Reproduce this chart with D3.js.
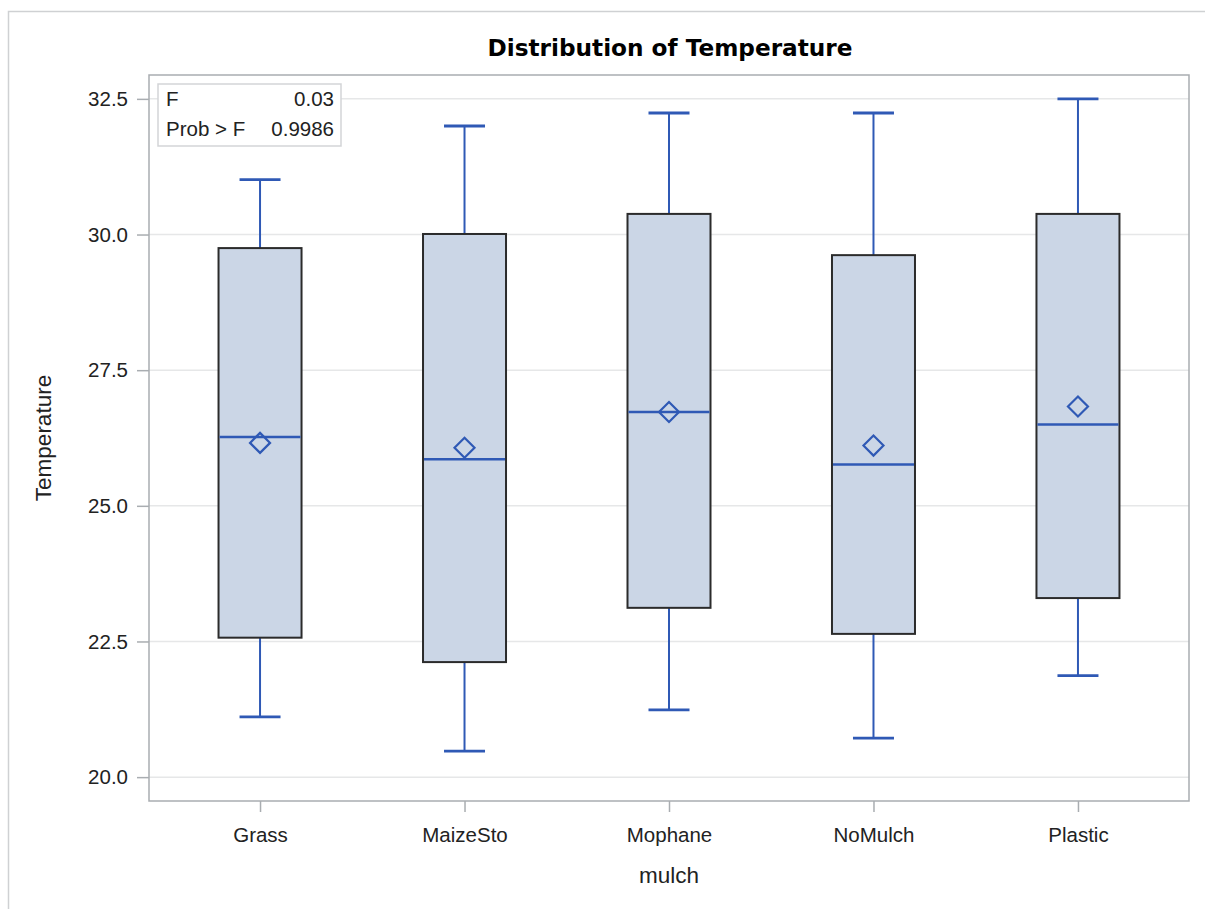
<!DOCTYPE html>
<html>
<head>
<meta charset="utf-8">
<script src="https://cdn.jsdelivr.net/npm/d3@7"></script>
<style>
  html, body { margin: 0; padding: 0; background: #fff; }
  svg { display: block; }
  text { font-family: "Liberation Sans", Arial, sans-serif; fill: #222; }
</style>
</head>
<body>
<svg id="chart" width="1205" height="909"></svg>
<script>
// ---- data ----
const categories = ["Grass", "MaizeSto", "Mophane", "NoMulch", "Plastic"];
const whiskerMin = [21.11, 20.48, 21.24, 20.72, 21.87];
const q1Values   = [22.57, 22.12, 23.12, 22.64, 23.30];
const medians    = [26.27, 25.86, 26.73, 25.76, 26.50];
const means      = [26.16, 26.07, 26.73, 26.11, 26.83];
const q3Values   = [29.75, 30.01, 30.38, 29.62, 30.38];
const whiskerMax = [31.01, 32.00, 32.24, 32.24, 32.50];
const yTicks = [20.0, 22.5, 25.0, 27.5, 30.0, 32.5];
const statLabels = ["F", "Prob > F"];
const statValues = ["0.03", "0.9986"];

const rows = categories.map((c, i) => ({
  cat: c, min: whiskerMin[i], q1: q1Values[i], med: medians[i],
  mean: means[i], q3: q3Values[i], max: whiskerMax[i]
}));

// ---- layout ----
const svg = d3.select("#chart");
const plot = { left: 149, right: 1189, top: 75, bottom: 801 };
const tickFont = 20.5;

// outer frame
svg.append("rect").attr("x", 8.5).attr("y", 11.5).attr("width", 1220).attr("height", 920)
  .attr("fill", "none").attr("stroke", "#cfd1d3").attr("stroke-width", 1.5);

const x = d3.scalePoint().domain(categories).range([plot.left, plot.right]).padding(0.543);
const y = d3.scaleLinear().domain([19.56, 32.94]).range([plot.bottom, plot.top]);

// gridlines
svg.append("g").selectAll("line").data(yTicks).join("line")
  .attr("x1", plot.left).attr("x2", plot.right)
  .attr("y1", d => y(d)).attr("y2", d => y(d))
  .attr("stroke", "#e6e7e8").attr("stroke-width", 1.5);

// plot frame
svg.append("rect").attr("x", plot.left).attr("y", plot.top)
  .attr("width", plot.right - plot.left).attr("height", plot.bottom - plot.top)
  .attr("fill", "none").attr("stroke", "#a9adb1").attr("stroke-width", 1.5);

// y axis
const yAxis = svg.append("g").attr("transform", `translate(${plot.left},0)`)
  .call(d3.axisLeft(y).tickValues(yTicks).tickFormat(d3.format(".1f")).tickSizeOuter(0).tickSize(12).tickPadding(9));
yAxis.select(".domain").remove();
yAxis.selectAll(".tick line").attr("stroke", "#a9adb1").attr("stroke-width", 1.5);
yAxis.selectAll(".tick text").style("font-size", tickFont + "px").style("fill", "#222");

// x axis
const xAxis = svg.append("g").attr("transform", `translate(0,${plot.bottom})`)
  .call(d3.axisBottom(x).tickSizeOuter(0).tickSize(11).tickPadding(15));
xAxis.select(".domain").remove();
xAxis.selectAll(".tick line").attr("stroke", "#a9adb1").attr("stroke-width", 1.5);
xAxis.selectAll(".tick text").style("font-size", tickFont + "px").style("fill", "#222");

// boxes
const boxW = 83, capW = 41;
const blue = "#2f59b5";
const g = svg.append("g");
const bx = g.selectAll("g.box").data(rows).join("g").attr("class", "box");

bx.append("line").attr("x1", d => x(d.cat)).attr("x2", d => x(d.cat))
  .attr("y1", d => y(d.max)).attr("y2", d => y(d.q3)).attr("stroke", blue).attr("stroke-width", 2);
bx.append("line").attr("x1", d => x(d.cat)).attr("x2", d => x(d.cat))
  .attr("y1", d => y(d.q1)).attr("y2", d => y(d.min)).attr("stroke", blue).attr("stroke-width", 2);
bx.append("line").attr("x1", d => x(d.cat) - capW / 2).attr("x2", d => x(d.cat) + capW / 2)
  .attr("y1", d => y(d.max)).attr("y2", d => y(d.max)).attr("stroke", blue).attr("stroke-width", 2.8);
bx.append("line").attr("x1", d => x(d.cat) - capW / 2).attr("x2", d => x(d.cat) + capW / 2)
  .attr("y1", d => y(d.min)).attr("y2", d => y(d.min)).attr("stroke", blue).attr("stroke-width", 2.8);
bx.append("rect").attr("x", d => x(d.cat) - boxW / 2).attr("width", boxW)
  .attr("y", d => y(d.q3)).attr("height", d => y(d.q1) - y(d.q3))
  .attr("fill", "#cbd6e6").attr("stroke", "#2b2b2b").attr("stroke-width", 2);
bx.append("line").attr("x1", d => x(d.cat) - boxW / 2 + 1).attr("x2", d => x(d.cat) + boxW / 2 - 1)
  .attr("y1", d => y(d.med)).attr("y2", d => y(d.med)).attr("stroke", blue).attr("stroke-width", 2.5);
const dm = 10;
bx.append("path")
  .attr("d", d => {
    const cx = x(d.cat), cy = y(d.mean);
    return `M${cx},${cy - dm}L${cx + dm},${cy}L${cx},${cy + dm}L${cx - dm},${cy}Z`;
  })
  .attr("fill", "none").attr("stroke", blue).attr("stroke-width", 2.2);

// stats inset
const inset = svg.append("g");
inset.append("rect").attr("x", 158).attr("y", 84).attr("width", 183).attr("height", 62)
  .attr("fill", "#fff").attr("stroke", "#d3d5d7").attr("stroke-width", 1.5);
inset.selectAll("text.lab").data(statLabels).join("text").attr("class", "lab")
  .attr("x", 166).attr("y", (d, i) => 106 + i * 30).style("font-size", "20.5px").text(d => d);
inset.selectAll("text.val").data(statValues).join("text").attr("class", "val")
  .attr("x", 334).attr("y", (d, i) => 106 + i * 30).style("font-size", "20.5px")
  .attr("text-anchor", "end").text(d => d);

// title and axis labels
svg.append("text").attr("x", (plot.left + plot.right) / 2 + 1).attr("y", 56)
  .attr("text-anchor", "middle")
  .style("font-family", "'DejaVu Sans', Verdana, sans-serif")
  .style("font-size", "23.2px").style("font-weight", "bold").style("fill", "#000")
  .text("Distribution of Temperature");
svg.append("text").attr("transform", `translate(51,${(plot.top + plot.bottom) / 2}) rotate(-90)`)
  .attr("text-anchor", "middle").style("font-size", "22.5px").text("Temperature");
svg.append("text").attr("x", (plot.left + plot.right) / 2).attr("y", 883)
  .attr("text-anchor", "middle").style("font-size", "22.5px").text("mulch");
</script>
</body>
</html>
